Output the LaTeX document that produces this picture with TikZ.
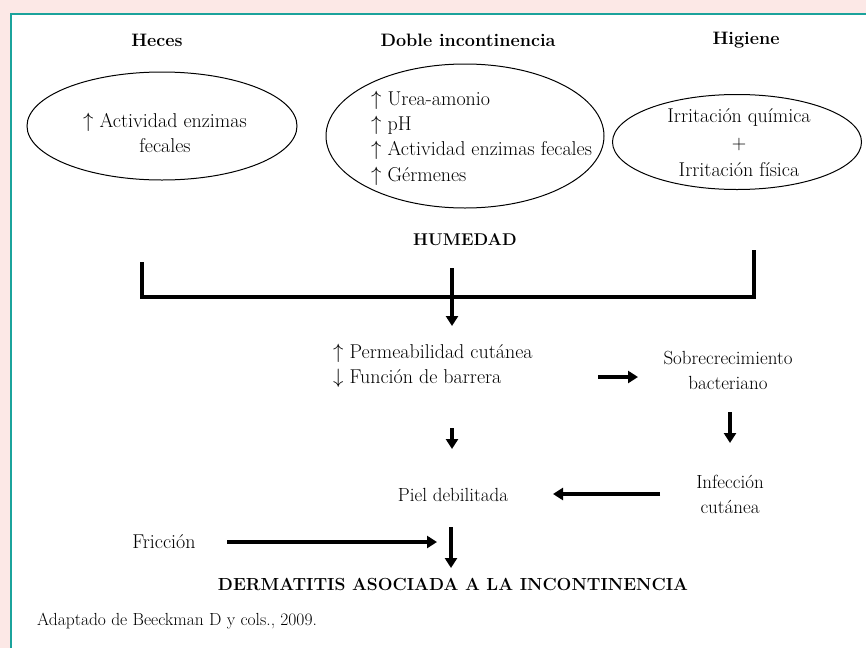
\documentclass[tikz,border=0pt]{standalone}
\usetikzlibrary{arrows.meta,shapes.geometric}
\definecolor{bgpink}{HTML}{FCE8E6}
\definecolor{tealline}{HTML}{1BA39C}
\begin{document}
\begin{tikzpicture}[x=1pt,y=-1pt,
 txt/.style={font=\fontsize{19}{25}\selectfont, align=center, inner sep=0pt},
 ovaltxt/.style={font=\fontsize{20}{25.3}\selectfont, align=center, inner sep=0pt},
 hdr/.style={font=\fontsize{18}{20}\selectfont\bfseries, inner sep=0pt},
 oval/.style={draw, ellipse, line width=1pt, inner sep=0pt},
 fatarrow/.style={line width=3.8pt, -{Triangle[width=12pt,length=10pt]}},
 bracketline/.style={line width=3.6pt}]
\useasboundingbox (0,0) rectangle (866,648);
\fill[bgpink] (0,0) rectangle (866,648);
\fill[white] (11,14) rectangle (866,648);
\draw[tealline, line width=2pt] (11,648) -- (11,14) -- (866,14);

% headers
\node[hdr] (h1) at (157,40) {Heces};
\node[hdr] (h2) at (468,40) {Doble incontinencia};
\node[hdr] (h3) at (746,40) {Higiene};

% ellipses
\node[oval, minimum width=270, minimum height=108] (e1) at (162,126) {};
\node[oval, minimum width=278, minimum height=144] (e2) at (465,136) {};
\node[oval, minimum width=249, minimum height=95] (e3) at (737,142) {};

\node[ovaltxt] (t1) at (165,133) {$\uparrow$ Actividad enzimas\\fecales};
\node[ovaltxt, align=left, anchor=west] (t2) at (371,138) {$\uparrow$ Urea-amonio\\$\uparrow$ pH\\$\uparrow$ Actividad enzimas fecales\\$\uparrow$ G\'ermenes};
\node[ovaltxt, font=\fontsize{20}{27}\selectfont] (t3) at (739,143) {Irritaci\'on qu\'imica\\+\\Irritaci\'on f\'isica};

\node[hdr, font=\fontsize{17}{20}\selectfont\bfseries] (hum) at (465,240) {HUMEDAD};

% bracket
\coordinate (bl) at (142,262);
\coordinate (br) at (754,250);
\coordinate (bm) at (452,268);
\draw[bracketline] (bl) -- (bl |- 0,297) -- (br |- 0,297) -- (br);

\node[ovaltxt, align=left, anchor=west] (perm) at (333,366) {$\uparrow$ Permeabilidad cut\'anea\\$\downarrow$ Funci\'on de barrera};
\coordinate (pm) at (452,326);
\draw[fatarrow] (bm) -- (pm);

\node[txt] (sob) at (728,370) {Sobrecrecimiento\\bacteriano};
\coordinate (a1s) at (598,377);
\coordinate (a1e) at (638,377);
\draw[fatarrow] (a1s) -- (a1e);

\coordinate (a2s) at (452,428);
\coordinate (a2e) at (452,449);
\draw[fatarrow] (a2s) -- (a2e);

\coordinate (a3s) at (730,412);
\coordinate (a3e) at (730,443);
\draw[fatarrow] (a3s) -- (a3e);

\node[txt] (piel) at (453,495) {Piel debilitada};
\node[txt] (inf) at (730,494) {Infecci\'on\\cut\'anea};
\coordinate (a4s) at (660,494);
\coordinate (a4e) at (553,494);
\draw[fatarrow] (a4s) -- (a4e);

\node[ovaltxt] (fric) at (164,542) {Fricci\'on};
\coordinate (a5s) at (227,542);
\coordinate (a5e) at (437,542);
\draw[fatarrow] (a5s) -- (a5e);

\coordinate (a6s) at (451,527);
\coordinate (a6e) at (451,568);
\draw[fatarrow] (a6s) -- (a6e);

\node[hdr, font=\fontsize{17.5}{20}\selectfont\bfseries] (derm) at (453,584) {DERMATITIS ASOCIADA A LA INCONTINENCIA};

\node[txt, font=\fontsize{17.5}{20}\selectfont, anchor=west] (src) at (37,621) {Adaptado de Beeckman D y cols., 2009.};
\end{tikzpicture}
\end{document}
